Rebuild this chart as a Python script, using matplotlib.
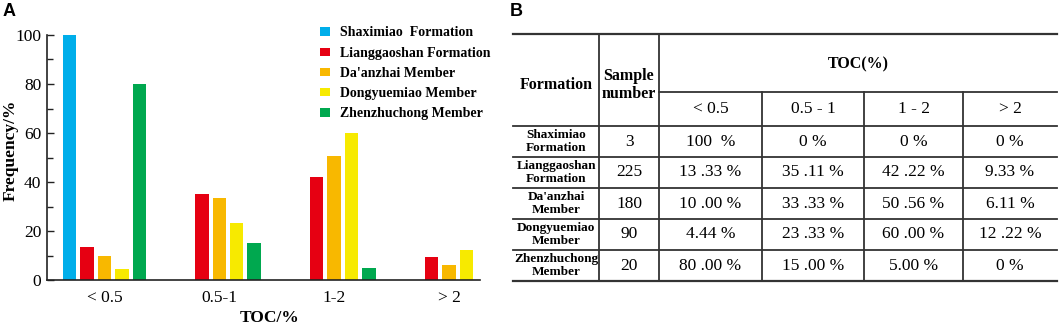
import numpy as np
import matplotlib
matplotlib.use("Agg")
import matplotlib.pyplot as plt
from matplotlib.patches import Patch

# data
toc_classes = ["< 0.5", "0.5-1", "1-2", "> 2"]
formations = ["Shaximiao  Formation", "Lianggaoshan Formation", "Da'anzhai Member",
              "Dongyuemiao Member", "Zhenzhuchong Member"]
shaximiao = [100, 0, 0, 0]
lianggaoshan = [13.33, 35.11, 42.22, 9.33]
daanzhai = [10.00, 33.33, 50.56, 6.11]
dongyuemiao = [4.44, 23.33, 60.00, 12.22]
zhenzhuchong = [80.00, 15.00, 5.00, 0]
colors = ["#00AEEA", "#E60012", "#F8B800", "#F7EA00", "#00A84F"]

# table B
row_names = ["Shaximiao\nFormation", "Lianggaoshan\nFormation", "Da'anzhai\nMember",
             "Dongyuemiao\nMember", "Zhenzhuchong\nMember"]
sample_number = [3, 225, 180, 90, 20]
toc_heads = ["< 0.5", "0.5 - 1", "1 - 2", "> 2"]
cells = [["100  %", "0 %", "0 %", "0 %"],
         ["13 .33 %", "35 .11 %", "42 .22 %", "9.33 %"],
         ["10 .00 %", "33 .33 %", "50 .56 %", "6.11 %"],
         ["4.44 %", "23 .33 %", "60 .00 %", "12 .22 %"],
         ["80 .00 %", "15 .00 %", "5.00 %", "0 %"]]

serif = "Liberation Serif"
W, H = 1059, 325
fig = plt.figure(figsize=(W / 100, H / 100), dpi=100)

# ---- panel A ----
ax = fig.add_axes([47 / W, 1 - 280 / H, 433 / W, 245 / H])
series = [shaximiao, lianggaoshan, daanzhai, dongyuemiao, zhenzhuchong]
x = np.arange(len(toc_classes))
for k, vals in enumerate(series):
    ax.bar(x + (k - 2) * 0.152, vals, width=0.117, color=colors[k], linewidth=0)

ax.set_xlim(-0.5, 3.27)
ax.set_ylim(0, 100)
ax.set_yticks(np.arange(0, 101, 20))
ax.set_yticks(np.arange(10, 100, 20), minor=True)
ax.set_xticks(x)
ax.set_xticklabels(toc_classes, fontfamily=serif, fontsize=12.5)
for lab in ax.get_yticklabels():
    lab.set_fontfamily(serif)
    lab.set_fontsize(12.5)
ax.tick_params(axis="y", which="both", direction="in", color="#222222", width=1)
ax.tick_params(axis="y", which="major", length=5, pad=4)
ax.tick_params(axis="y", which="minor", length=4)
ax.tick_params(axis="x", length=0, pad=7)
for s in ["top", "right"]:
    ax.spines[s].set_visible(False)
for s in ["left", "bottom"]:
    ax.spines[s].set_linewidth(1.2)
    ax.spines[s].set_color("#222222")
ax.set_ylabel("Frequency/%", fontfamily=serif, fontweight="bold", fontsize=12.5,
              va="center")
ax.yaxis.set_label_coords(-0.083, 0.53)
ax.set_xlabel("TOC/%", fontfamily=serif, fontweight="bold", fontsize=12.5, va="center")
ax.xaxis.set_label_coords(0.515, -0.155)

handles = [Patch(facecolor=c, edgecolor="none") for c in colors]
ax.legend(handles, formations, loc="upper left", bbox_to_anchor=(0.63, 1.035),
          frameon=False, borderaxespad=0, borderpad=0, handlelength=0.75,
          handleheight=0.55, handletextpad=0.7, labelspacing=0.52,
          prop={"family": serif, "weight": "bold", "size": 10})

fig.text(3 / W, 1 - 11 / H, "A", fontfamily="Liberation Sans", fontweight="bold",
         fontsize=13, va="center", ha="left")
fig.text(510 / W, 1 - 11 / H, "B", fontfamily="Liberation Sans", fontweight="bold",
         fontsize=13, va="center", ha="left")

# ---- panel B: table ----
tb = fig.add_axes([0, 0, 1, 1])
tb.set_xlim(0, W)
tb.set_ylim(H, 0)
tb.axis("off")
col_edges = [513, 599, 659, 762, 864, 963, 1057]
row_edges = [34, 92, 126, 157, 188, 219, 250, 281]
lc = "#333333"
lw = 1.3
# horizontal lines
tb.plot([col_edges[0], col_edges[-1]], [row_edges[0]] * 2, color=lc, lw=1.6)
tb.plot([col_edges[2], col_edges[-1]], [row_edges[1]] * 2, color=lc, lw=lw)
for r in row_edges[2:-1]:
    tb.plot([col_edges[0], col_edges[-1]], [r, r], color=lc, lw=lw)
tb.plot([col_edges[0], col_edges[-1]], [row_edges[-1]] * 2, color=lc, lw=1.6)
# vertical lines
for c in col_edges[1:3]:
    tb.plot([c, c], [row_edges[0], row_edges[-1]], color=lc, lw=lw)
for c in col_edges[3:-1]:
    tb.plot([c, c], [row_edges[1], row_edges[-1]], color=lc, lw=lw)

def cx(i):
    return (col_edges[i] + col_edges[i + 1]) / 2

def cy(j):
    return (row_edges[j] + row_edges[j + 1]) / 2

tb.text(cx(0), 85, "Formation", ha="center", va="center", fontfamily=serif,
        fontweight="bold", fontsize=11.5)
tb.text(cx(1), 85, "Sample\nnumber", ha="center", va="center", fontfamily=serif,
        fontweight="bold", fontsize=11.5, linespacing=1.15)
tb.text((col_edges[2] + col_edges[-1]) / 2, 64, "TOC(%)", ha="center", va="center",
        fontfamily=serif, fontweight="bold", fontsize=11.5)
for i, h in enumerate(toc_heads):
    tb.text(cx(i + 2), cy(1), h, ha="center", va="center", fontfamily=serif, fontsize=12.5)
for j in range(len(row_names)):
    tb.text(cx(0), cy(j + 2), row_names[j], ha="center", va="center", fontfamily=serif,
            fontweight="bold", fontsize=9.5, linespacing=1.15)
    tb.text(cx(1), cy(j + 2), str(sample_number[j]), ha="center", va="center",
            fontfamily=serif, fontsize=12.5)
    for i in range(4):
        tb.text(cx(i + 2), cy(j + 2), cells[j][i], ha="center", va="center",
                fontfamily=serif, fontsize=12.5)

fig.savefig("out.png", dpi=100)
